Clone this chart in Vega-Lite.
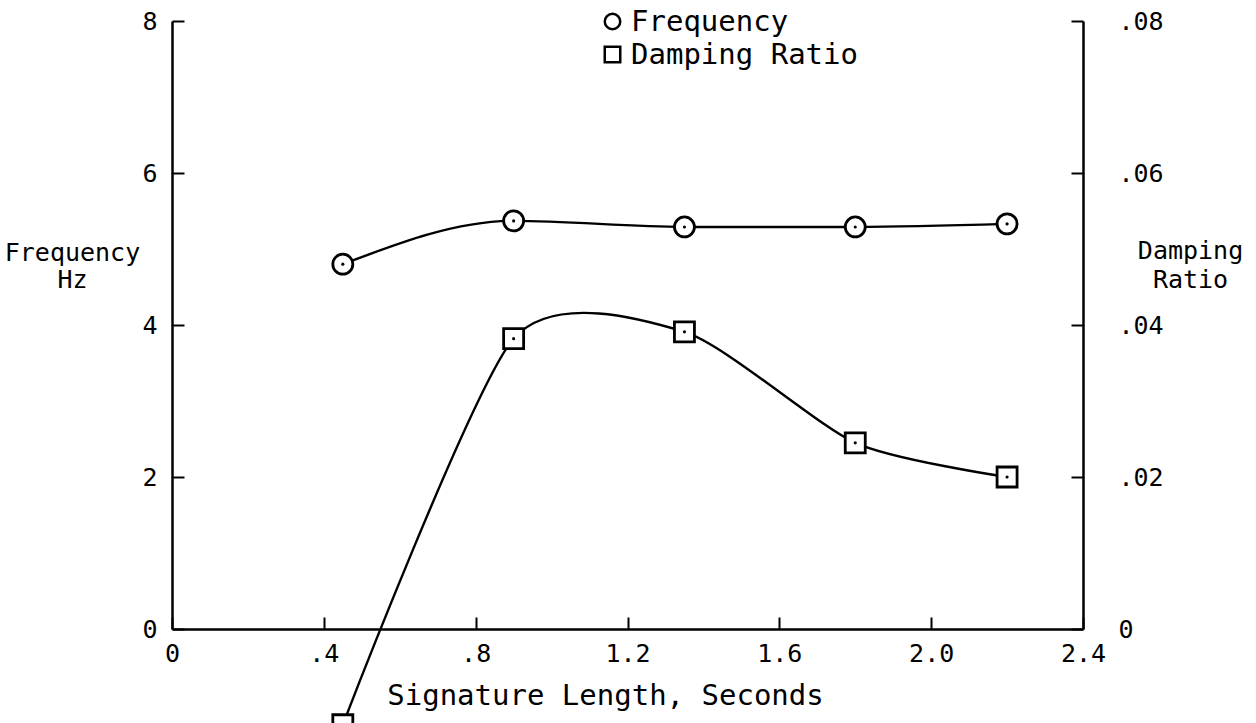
{
  "$schema": "https://vega.github.io/schema/vega-lite/v6.json",
  "width": 911,
  "height": 608,
  "autosize": {"type": "none"},
  "padding": {"left": 172, "top": 21, "right": 173, "bottom": 94},
  "background": "white",
  "config": {
    "view": {"stroke": null},
    "font": "DejaVu Sans Mono",
    "axis": {
      "grid": false,
      "domainColor": "black",
      "domainWidth": 2.5,
      "tickColor": "black",
      "tickWidth": 2,
      "tickSize": 12,
      "labelColor": "black",
      "titleColor": "black",
      "labelFont": "DejaVu Sans Mono",
      "titleFont": "DejaVu Sans Mono",
      "labelFontSize": 25,
      "titleFontSize": 25,
      "titleFontWeight": "normal",
      "labelFlush": false,
      "labelOverlap": false
    },
    "legend": {
      "labelFont": "DejaVu Sans Mono",
      "labelFontSize": 29,
      "labelColor": "black",
      "labelLimit": 0
    }
  },
  "data": {
    "values": [
      {"t": 0.45, "series": "Frequency", "value": 4.80},
      {"t": 0.90, "series": "Frequency", "value": 5.37},
      {"t": 1.35, "series": "Frequency", "value": 5.29},
      {"t": 1.80, "series": "Frequency", "value": 5.29},
      {"t": 2.20, "series": "Frequency", "value": 5.33},
      {"t": 0.45, "series": "Damping Ratio", "value": -0.0126},
      {"t": 0.90, "series": "Damping Ratio", "value": 0.0382},
      {"t": 1.35, "series": "Damping Ratio", "value": 0.0391},
      {"t": 1.80, "series": "Damping Ratio", "value": 0.0245},
      {"t": 2.20, "series": "Damping Ratio", "value": 0.0200}
    ]
  },
  "encoding": {
    "x": {
      "field": "t",
      "type": "quantitative",
      "scale": {"domain": [0, 2.4], "nice": false, "zero": false},
      "axis": {
        "orient": "top",
        "offset": -608,
        "title": "Signature Length, Seconds",
        "titleFontSize": 29,
        "values": [0, 0.4, 0.8, 1.2, 1.6, 2.0, 2.4],
        "labelExpr": "datum.value == 0 ? '0' : (datum.value < 1 ? substring(format(datum.value, '.1f'), 1) : format(datum.value, '.1f'))",
        "labelPadding": -24,
        "labelBaseline": "top",
        "titleAnchor": "start",
        "titleAlign": "center",
        "titleBaseline": "middle",
        "titleX": 433,
        "titleY": 66
      }
    }
  },
  "layer": [
    {
      "transform": [{"filter": "datum.series === 'Frequency'"}],
      "encoding": {
        "y": {
          "field": "value",
          "type": "quantitative",
          "scale": {"domain": [0, 8], "nice": false, "zero": false},
          "axis": {
            "orient": "right",
            "offset": -911,
            "values": [0, 2, 4, 6, 8],
            "title": ["Frequency", "Hz"],
            "titleAngle": 0,
            "titleAlign": "center",
            "titleBaseline": "middle",
            "titleX": -100,
            "titleY": 231,
            "titleLineHeight": 27,
            "labelPadding": -27,
            "labelAlign": "right"
          }
        }
      },
      "layer": [
        {"mark": {"type": "line", "interpolate": "monotone", "color": "black", "strokeWidth": 2.4}},
        {"mark": {"type": "point", "shape": "circle", "filled": true, "color": "white", "strokeWidth": 0, "size": 400, "opacity": 1}},
        {
          "mark": {"type": "point", "filled": false, "color": "black", "strokeWidth": 2.8, "size": 400, "opacity": 1},
          "encoding": {
            "shape": {
              "field": "series",
              "type": "nominal",
              "scale": {"domain": ["Frequency", "Damping Ratio"], "range": ["circle", "square"]},
              "legend": {
                "title": null,
                "orient": "none",
                "legendX": 426,
                "legendY": -14,
                "symbolSize": 240,
                "symbolStrokeWidth": 2.5,
                "labelOffset": 4,
                "rowPadding": 3
              }
            }
          }
        },
        {"mark": {"type": "circle", "size": 10, "color": "black", "opacity": 1}}
      ]
    },
    {
      "transform": [{"filter": "datum.series === 'Damping Ratio'"}],
      "encoding": {
        "y": {
          "field": "value",
          "type": "quantitative",
          "scale": {"domain": [0, 0.08], "nice": false, "zero": false},
          "axis": {
            "orient": "left",
            "offset": -911,
            "values": [0, 0.02, 0.04, 0.06, 0.08],
            "labelExpr": "datum.value == 0 ? '0' : substring(format(datum.value, '.2f'), 1)",
            "title": ["Damping", "Ratio"],
            "titleAngle": 0,
            "titleAlign": "center",
            "titleBaseline": "middle",
            "titleX": 107,
            "titleY": 229,
            "titleLineHeight": 29,
            "labelPadding": -47,
            "labelAlign": "left"
          }
        }
      },
      "layer": [
        {"mark": {"type": "line", "interpolate": "cardinal", "tension": 0.3, "color": "black", "strokeWidth": 2.4}},
        {"mark": {"type": "point", "shape": "square", "filled": true, "color": "white", "strokeWidth": 0, "size": 400, "opacity": 1}},
        {
          "mark": {"type": "point", "filled": false, "color": "black", "strokeWidth": 2.8, "size": 400, "opacity": 1},
          "encoding": {
            "shape": {"field": "series", "type": "nominal"}
          }
        },
        {"mark": {"type": "circle", "size": 10, "color": "black", "opacity": 1}}
      ]
    }
  ],
  "resolve": {"scale": {"y": "independent"}}
}
